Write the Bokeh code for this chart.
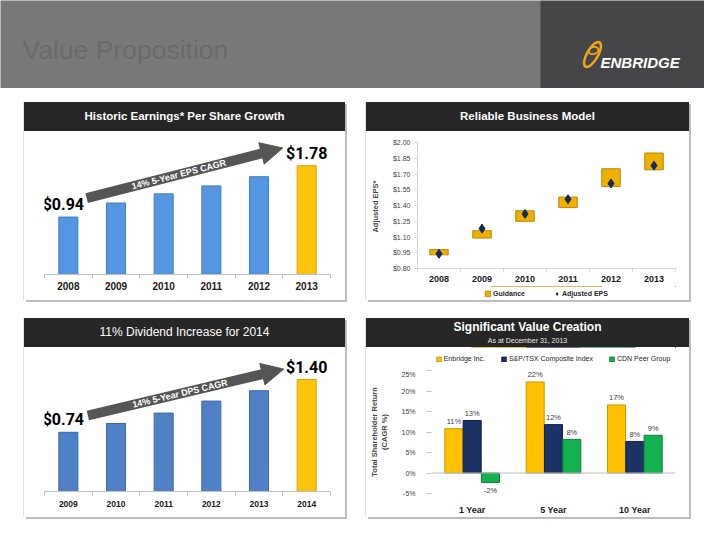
import math
from bokeh.plotting import figure
from bokeh.layouts import column, row
from bokeh.models import (ColumnDataSource, FixedTicker, Arrow, NormalHead, Label,
                          Legend, LegendItem, NumeralTickFormatter, PrintfTickFormatter,
                          Span, Range1d, Spacer, BoxAnnotation, Div)
from bokeh.embed import file_html
from bokeh.resources import INLINE
from bokeh.core.properties import value

# ---------------- data ----------------
slide_title = "Value  Proposition"
company = "ENBRIDGE"

eps_title = "Historic Earnings* Per Share Growth"
eps_years = ["2008", "2009", "2010", "2011", "2012", "2013"]
eps_values = [0.94, 1.17, 1.32, 1.45, 1.60, 1.78]
eps_cagr_text = "14% 5-Year EPS CAGR"

model_title = "Reliable Business Model"
model_years = ["2008", "2009", "2010", "2011", "2012", "2013"]
guidance_low = [0.93, 1.09, 1.25, 1.38, 1.58, 1.74]
guidance_high = [0.98, 1.16, 1.35, 1.48, 1.75, 1.90]
adjusted_eps = [0.94, 1.18, 1.32, 1.46, 1.61, 1.78]
model_ticks = [0.80, 0.95, 1.10, 1.25, 1.40, 1.55, 1.70, 1.85, 2.00]
model_series = ["Guidance", "Adjusted EPS"]

dps_title = "11% Dividend Increase for 2014"
dps_years = ["2009", "2010", "2011", "2012", "2013", "2014"]
dps_values = [0.74, 0.85, 0.98, 1.13, 1.26, 1.40]
dps_cagr_text = "14% 5-Year DPS CAGR"

tsr_title = "Significant Value Creation"
tsr_subtitle = "As at December 31, 2013"
tsr_periods = ["1 Year", "5 Year", "10 Year"]
tsr_series = ["Enbridge Inc.", "S&P/TSX Composite Index", "CDN Peer Group"]
tsr_enbridge = [10.8, 22.2, 16.6]
tsr_sptsx = [12.8, 11.8, 7.7]
tsr_peer = [-2.3, 8.2, 9.2]
tsr_ticks = [-5, 0, 5, 10, 15, 20, 25]

# ---------------- styles ----------------
FONT = "Liberation Sans"
BAND = "#262626"
GOLD = "#ffc20e"
AXIS_GREY = "#c0c0c0"
GUIDE_FILL, GUIDE_EDGE = "#f0b000", "#b8860b"
DIAMOND = "#13295a"
TSR_STYLE = [("#ffc000", "#c99700", -0.225),
             ("#1c3368", "#0f1f45", 0.0),
             ("#12b24e", "#0b7f37", 0.225)]


def base_fig(w, h, xr, yr, left, right, top, bottom, y_axis=True, x_axis=True):
    p = figure(width=w, height=h, x_range=xr, y_range=yr, toolbar_location=None,
               output_backend="svg", title=None,
               x_axis_type="linear" if x_axis else None,
               y_axis_type="linear" if y_axis else None,
               min_border=0, min_border_left=left, min_border_right=right,
               min_border_top=top, min_border_bottom=bottom)
    p.grid.visible = False
    p.outline_line_color = None
    p.background_fill_color = "white"
    p.border_fill_color = "white"
    return p


def band_div(w, h, title, size, bold=True, subtitle=None):
    weight = "bold" if bold else "normal"
    if subtitle is None:
        html = title
        lh = f"{h}px"
    else:
        html = (f"<div style='font-size:{size};font-weight:bold;line-height:17px;"
                f"padding-top:1px'>{title}</div>"
                f"<div style='font-size:7px;font-weight:normal;line-height:9px;"
                f"color:#e6e6e6'>{subtitle}</div>")
        lh = "normal"
    return Div(text=html, width=w, height=h, margin=0,
               styles={"background-color": BAND, "color": "white",
                       "font-family": FONT, "font-size": size, "font-weight": weight,
                       "text-align": "center", "line-height": lh, "overflow": "hidden"})


def legend_fig(w, h, left, right):
    # legend-only strip: its series copies sit outside the visible range
    return base_fig(w, h, Range1d(0, 1), Range1d(-100, -99), left, right, 0, 0,
                    y_axis=False, x_axis=False)


def year_axis(p, labels, size, tick_len, standoff):
    n = len(labels)
    centers = [i + 0.5 for i in range(n)]
    ax = p.xaxis[0]
    ax.ticker = FixedTicker(ticks=centers, minor_ticks=list(range(n + 1)))
    ax.major_label_overrides = {c: lab for c, lab in zip(centers, labels)}
    ax.major_tick_out = 0
    ax.major_tick_in = 0
    ax.minor_tick_out = tick_len
    ax.minor_tick_in = 0
    ax.axis_line_color = AXIS_GREY
    ax.minor_tick_line_color = AXIS_GREY
    ax.major_label_text_font = FONT
    ax.major_label_text_font_style = "bold"
    ax.major_label_text_font_size = size
    ax.major_label_text_color = "#1a1a1a"
    ax.major_label_standoff = standoff


def growth_chart(years, vals, ymax, h, bottom, blue, edge, arrow_d, cagr_text,
                 year_size, year_standoff):
    n = len(years)
    xs = [i + 0.5 for i in range(n)]
    w, left, right = 321, 20, 15
    p = base_fig(w, h, Range1d(0, n), Range1d(0, ymax), left, right, 0, bottom, y_axis=False)
    colors = [blue] * (n - 1) + [GOLD]
    edges = [edge] * (n - 1) + ["#d9a400"]
    src = ColumnDataSource(dict(x=xs, top=vals, color=colors, edge=edges))
    p.vbar(x="x", top="top", width=0.4, fill_color="color", line_color="edge", source=src)
    lab = ColumnDataSource(dict(x=[xs[0], xs[-1]], y=[vals[0], vals[-1]],
                                text=[f"${vals[0]:.2f}", f"${vals[-1]:.2f}"], dx=[-5, 0]))
    p.text(x="x", y="y", text="text", x_offset="dx", y_offset=-3, text_align="center",
           text_baseline="bottom", text_font=value("Roboto"), text_font_style="bold",
           text_font_size="16px", text_color="black", source=lab)
    # CAGR arrow from first bar to last bar
    x0 = xs[0] + arrow_d[0]
    y0 = vals[0] + arrow_d[1]
    x1 = xs[-1] + arrow_d[2]
    y1 = vals[-1] + arrow_d[3]
    grey = "#555555"
    p.add_layout(Arrow(x_start=x0, y_start=y0, x_end=x1, y_end=y1, line_width=10,
                       line_color=grey,
                       end=NormalHead(size=22, fill_color=grey, line_color=grey, line_width=1)))
    fw = w - left - right
    fh = h - bottom
    ang = math.degrees(math.atan2((y1 - y0) * fh / ymax, (x1 - x0) * fw / n))
    t = 0.47
    p.add_layout(Label(x=x0 + t * (x1 - x0), y=y0 + t * (y1 - y0), text=cagr_text,
                       angle=ang, angle_units="deg", text_align="center",
                       text_baseline="middle", text_color="white", text_font=FONT,
                       text_font_style="bold", text_font_size="9px"))
    year_axis(p, years, year_size, 4, year_standoff)
    return p


# ---------------- header ----------------
hd = figure(width=704, height=88, x_range=Range1d(0, 704), y_range=Range1d(0, 88),
            toolbar_location=None, output_backend="svg", title=None,
            x_axis_type=None, y_axis_type=None, min_border=0)
hd.grid.visible = False
hd.outline_line_color = None
hd.background_fill_color = "#787878"
hd.border_fill_color = "#787878"
hd.add_layout(BoxAnnotation(left=540, right=704, bottom=0, top=88, fill_color="#464548",
                            fill_alpha=1, line_color=None, level="underlay"))
hd.add_layout(Label(x=22, y=39, text=slide_title, text_baseline="middle",
                    text_color="#6a6a6a", text_font=FONT, text_font_size="26.5px"))
hd.ellipse(x=[592, 593], y=[34, 38], width=[28, 10], height=[11, 7], angle=[1.05, 0.3],
           fill_color=None, line_color="#f2a71b", line_width=[2.5, 1.8])
hd.add_layout(Label(x=600, y=26, text=company, text_baseline="middle", text_color="white",
                    text_font=FONT, text_font_style="bold italic", text_font_size="15px"))

# ---------------- top left: EPS ----------------
tl_band = band_div(321, 29, eps_title, "11.5px")
tl = growth_chart(eps_years, eps_values, 2.34, 169, 26, "#5596e3", "#3f7cc8",
                  (0.384, 0.31, -0.5, 0.29), eps_cagr_text, "10px", 3)

# ---------------- top right: guidance ----------------
tr_band = band_div(323, 29, model_title, "11.5px")
nm = len(model_years)
mx = [i + 0.5 for i in range(nm)]
tr = base_fig(323, 155, Range1d(0, nm), Range1d(model_ticks[0], model_ticks[-1]),
              51, 14, 11, 18)
tr.vbar(x=mx, bottom=guidance_low, top=guidance_high, width=0.43,
        fill_color=GUIDE_FILL, line_color=GUIDE_EDGE)
tr.scatter(x=mx, y=adjusted_eps, marker="diamond", size=9,
           fill_color=DIAMOND, line_color=DIAMOND)
year_axis(tr, model_years, "9px", 3, 4)
tr.xaxis[0].axis_line_color = "#d4d4d4"
tr.xaxis[0].minor_tick_line_color = "#d4d4d4"
ya = tr.yaxis[0]
ya.ticker = FixedTicker(ticks=model_ticks)
ya.formatter = NumeralTickFormatter(format="$0.00")
ya.axis_line_color = "#d4d4d4"
ya.major_tick_line_color = "#d4d4d4"
ya.major_tick_out = 3
ya.major_tick_in = 0
ya.minor_tick_line_color = None
ya.major_label_text_font = FONT
ya.major_label_text_font_size = "7px"
ya.major_label_text_color = "#404040"
ya.major_label_standoff = 4
ya.axis_label = "Adjusted  EPS*"
ya.axis_label_text_font = FONT
ya.axis_label_text_font_style = "bold"
ya.axis_label_text_font_size = "7.5px"
ya.axis_label_standoff = 10

tr_lf = legend_fig(323, 14, 51, 14)
lg_box = tr_lf.vbar(x=mx, bottom=guidance_low, top=guidance_high, width=0.43,
                    fill_color=GUIDE_FILL, line_color=GUIDE_EDGE)
lg_dia = tr_lf.scatter(x=mx, y=adjusted_eps, marker="diamond", size=8,
                       fill_color=DIAMOND, line_color=DIAMOND)
tr_lf.add_layout(Legend(items=[LegendItem(label=model_series[0], renderers=[lg_box]),
                               LegendItem(label=model_series[1], renderers=[lg_dia])],
                        orientation="horizontal", location="center", border_line_color=None,
                        background_fill_alpha=0, label_text_font=FONT,
                        label_text_font_style="bold", label_text_font_size="7px",
                        label_text_color="#262626", glyph_width=7, glyph_height=7,
                        label_width=0, label_height=8, label_standoff=2, spacing=28,
                        padding=1, margin=0))

# ---------------- bottom left: DPS ----------------
bl_band = band_div(321, 29, dps_title, "12px", bold=False)
bl = growth_chart(dps_years, dps_values, 1.8, 170, 26, "#4f81c6", "#3a68a8",
                  (0.41, 0.21, -0.48, 0.13), dps_cagr_text, "8.5px", 5)

# ---------------- bottom right: TSR ----------------
br_band = band_div(323, 29, tsr_title, "12px", subtitle=tsr_subtitle)
npd = len(tsr_periods)
cx = [i + 0.5 for i in range(npd)]
br = base_fig(323, 147, Range1d(0, npd), Range1d(tsr_ticks[0], tsr_ticks[-1]),
              60, 14, 0, 22)
br.add_layout(Span(location=0, dimension="width", line_color=AXIS_GREY, line_width=1))
br_lf = legend_fig(323, 23, 60, 14)
items = []
for vals, (col, edge, dx), name in zip([tsr_enbridge, tsr_sptsx, tsr_peer], TSR_STYLE, tsr_series):
    xs = [c + dx for c in cx]
    br.vbar(x=xs, top=vals, bottom=0, width=0.222, fill_color=col, line_color=edge)
    src = ColumnDataSource(dict(x=xs, y=vals, text=[f"{v:.0f}%" for v in vals],
                                off=[-7 if v >= 0 else 8 for v in vals]))
    br.text(x="x", y="y", text="text", y_offset="off", text_align="center",
            text_baseline="middle", text_font=value(FONT), text_font_size="7.5px",
            text_color="#404040", source=src)
    lr = br_lf.vbar(x=xs, top=vals, bottom=0, width=0.222, fill_color=col, line_color=edge)
    items.append(LegendItem(label=name, renderers=[lr]))
br_lf.add_layout(Legend(items=items, orientation="horizontal", location="center",
                        border_line_color=None, background_fill_alpha=0, label_text_font=FONT,
                        label_text_font_size="7px", label_text_color="#262626",
                        glyph_width=6, glyph_height=6, label_width=0, label_height=8,
                        label_standoff=2, spacing=16, padding=1, margin=0))
bx = br.xaxis[0]
bx.ticker = FixedTicker(ticks=cx)
bx.major_label_overrides = {c: lab for c, lab in zip(cx, tsr_periods)}
bx.axis_line_color = None
bx.major_tick_line_color = None
bx.minor_tick_line_color = None
bx.major_label_text_font = FONT
bx.major_label_text_font_style = "bold"
bx.major_label_text_font_size = "9px"
bx.major_label_text_color = "#1a1a1a"
bx.major_label_standoff = 5
by = br.yaxis[0]
by.ticker = FixedTicker(ticks=tsr_ticks)
by.formatter = PrintfTickFormatter(format="%d%%")
by.axis_line_color = None
by.major_tick_line_color = AXIS_GREY
by.major_tick_out = 5
by.major_tick_in = 0
by.minor_tick_line_color = None
by.major_label_text_font = FONT
by.major_label_text_font_size = "7px"
by.major_label_text_color = "#404040"
by.major_label_standoff = 11
by.axis_label = "Total Shareholder Return\n(CAGR %)"
by.axis_label_text_font = FONT
by.axis_label_text_font_style = "bold"
by.axis_label_text_font_size = "7.5px"
by.axis_label_standoff = 9

# ---------------- layout ----------------
shadow = {"box-shadow": "2px 2px 0 #bdbdbd, -1px 0 0 #e2e2e2"}
p_tl = column(tl_band, tl, styles=shadow)
p_tr = column(tr_band, tr, tr_lf, styles=shadow)
p_bl = column(bl_band, bl, styles=shadow)
p_br = column(br_band, br_lf, br, styles=shadow)

page = column(
    hd,
    Spacer(width=704, height=14),
    row(Spacer(width=24, height=198), p_tl, Spacer(width=21, height=198), p_tr),
    Spacer(width=704, height=18),
    row(Spacer(width=24, height=199), p_bl, Spacer(width=21, height=199), p_br),
)

open("out.html", "w").write(file_html(page, INLINE))
